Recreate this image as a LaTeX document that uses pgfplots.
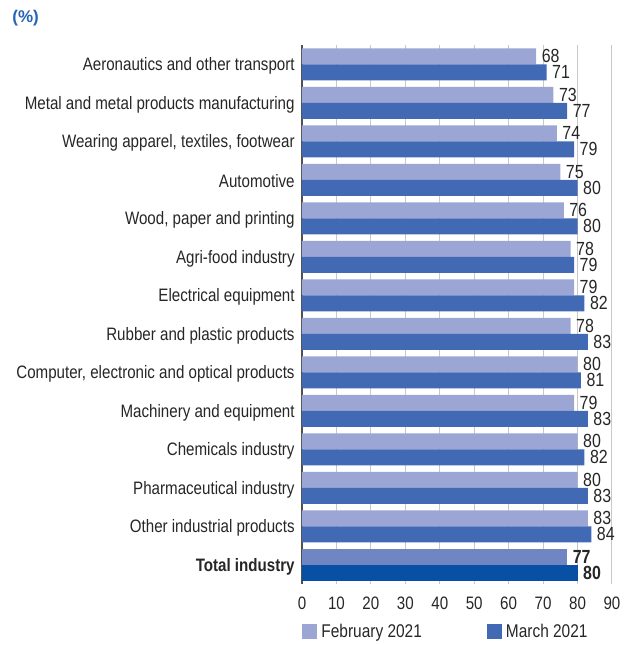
\documentclass[border=0pt]{standalone}
\usepackage{fontspec}
\setmainfont{Liberation Sans}[FakeStretch=0.84]
\newfontfamily\titlefont{Liberation Sans}
\usepackage{pgfplots}
\pgfplotsset{compat=1.18}
\definecolor{feb}{RGB}{155,166,212}
\definecolor{mar}{RGB}{66,105,180}
\definecolor{totfeb}{RGB}{111,134,195}
\definecolor{totmar}{RGB}{8,80,164}
\definecolor{titleblue}{RGB}{38,100,180}
\definecolor{gridgray}{RGB}{200,200,200}
\definecolor{axisgray}{RGB}{80,80,80}
\definecolor{txt}{RGB}{38,38,38}
\begin{document}
\begin{tikzpicture}
\path[use as bounding box] (0,0) rectangle (314.5pt,322.5pt);
\begin{axis}[
  at={(151pt,30.5pt)}, anchor=south west,
  scale only axis, width=155pt, height=269.5pt,
  xmin=0, xmax=90, ymin=-0.5, ymax=13.5, y dir=reverse,
  xtick={0,10,...,90}, ytick={0,...,13},
  yticklabels={Aeronautics and other transport, Metal and metal products manufacturing, {Wearing apparel, textiles, footwear}, Automotive, {Wood, paper and printing}, Agri-food industry, Electrical equipment, Rubber and plastic products, {Computer, electronic and optical products}, Machinery and equipment, Chemicals industry, Pharmaceutical industry, Other industrial products, \textbf{Total industry}},
  yticklabel style={yshift=-0.8pt, inner sep=3.5pt},
  xmajorgrids, major grid style={draw=gridgray, line width=0.5pt},
  axis lines*=left, x axis line style={draw=none}, y axis line style={draw=axisgray, line width=0.6pt},
  major tick length=0pt,
  tick label style={font=\fontsize{9}{10}\selectfont, text=txt},
  xticklabel style={yshift=-3pt},
  /pgf/number format/assume math mode=true,
  xbar, bar width=8pt,
  nodes near coords,
  nodes near coords style={font=\fontsize{9.5}{10}\selectfont, text=txt, anchor=west, inner sep=2.6pt},
  legend image code/.code={\fill[#1] (0pt,-3.75pt) rectangle (7.5pt,3.75pt);},
  legend style={at={(0,-0.089)}, anchor=west, draw=none, fill=none, inner sep=0pt,
    font=\fontsize{9.2}{10}\selectfont, text=txt, legend columns=2,
    /tikz/every even column/.append style={column sep=30.5pt}},
  legend cell align=left,
]
\addplot[fill=feb, draw=none, bar shift=4pt] coordinates {
(68,0) (73,1) (74,2) (75,3) (76,4) (78,5) (79,6) (78,7) (80,8) (79,9) (80,10) (80,11) (83,12)};
\addplot[fill=mar, draw=none, bar shift=-4pt] coordinates {
(71,0) (77,1) (79,2) (80,3) (80,4) (79,5) (82,6) (83,7) (81,8) (83,9) (82,10) (83,11) (84,12)};
\addplot[fill=totfeb, draw=none, bar shift=4pt, nodes near coords style={font=\fontsize{9.5}{10}\selectfont\bfseries}] coordinates {(77,13)};
\addplot[fill=totmar, draw=none, bar shift=-4pt, nodes near coords style={font=\fontsize{9.5}{10}\selectfont\bfseries}] coordinates {(80,13)};
\legend{February 2021, March 2021}
\end{axis}
\node[anchor=west, inner sep=0pt, text=titleblue, font=\titlefont\fontsize{8.5}{10}\selectfont\bfseries] at (6pt,313.5pt) {(\%)};
\end{tikzpicture}
\end{document}
